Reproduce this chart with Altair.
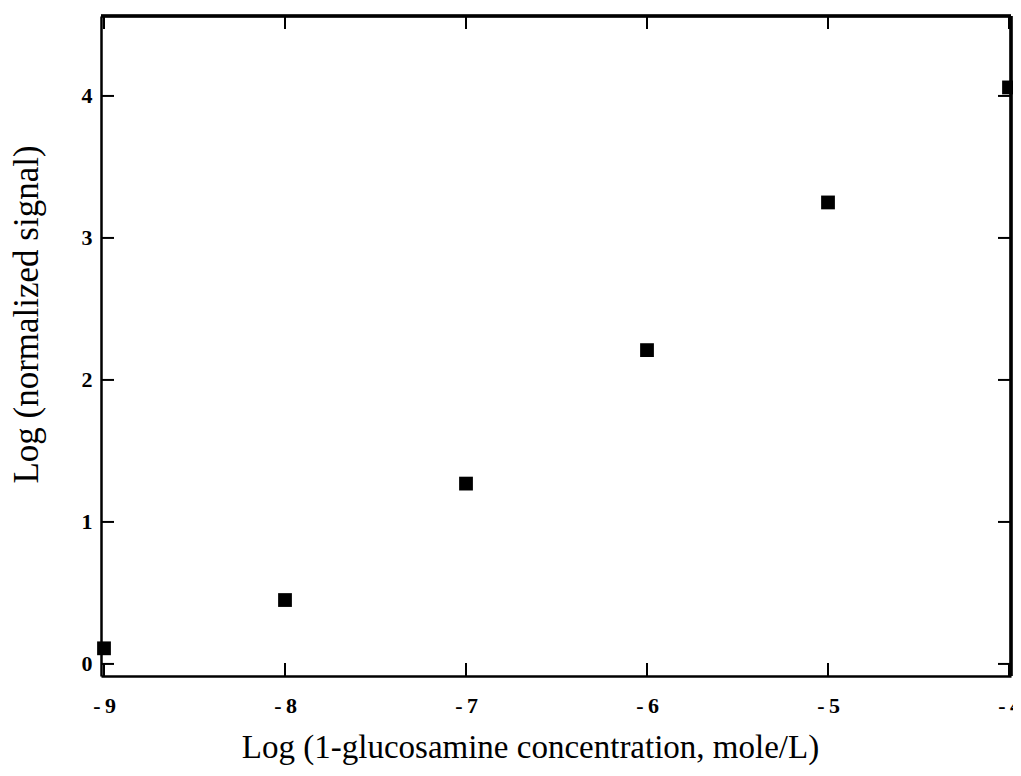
import altair as alt
import pandas as pd

# data
log_conc = [-9, -8, -7, -6, -5, -4]
log_signal = [0.11, 0.45, 1.27, 2.21, 3.25, 4.06]
x_ticks = [-9, -8, -7, -6, -5, -4]
y_ticks = [0, 1, 2, 3, 4]

df = pd.DataFrame({"x": log_conc, "y": log_signal})
xt = pd.DataFrame({"v": x_ticks})
yt = pd.DataFrame({"v": y_ticks})

W, H = 910, 660
xs = alt.Scale(domain=[-9.0166, -3.989], nice=False, zero=False)
ys = alt.Scale(domain=[-0.085, 4.563], nice=False, zero=False)

FONT = "Liberation Serif"

xaxis = alt.Axis(
    values=x_ticks, tickSize=0, labelPadding=19, labelFontSize=22, labelFontWeight="bold",
    labelFont=FONT, labelColor="black", labelExpr="'-\u2009' + abs(datum.value)",
    domainColor="black", domainWidth=2.5, grid=False,
    title="Log (1-glucosamine concentration, mole/L)", titleFont=FONT, titleFontSize=33,
    titleFontWeight="normal", titleColor="black", titleX=429, titleY=81,
    titleBaseline="alphabetic", labelFlush=False,
)
yaxis = alt.Axis(
    values=y_ticks, tickSize=0, labelPadding=9, labelFontSize=22, labelFontWeight="bold",
    labelFont=FONT, labelColor="black", labelExpr="format(datum.value, 'd')",
    domainColor="black", domainWidth=2.5, grid=False,
    title="Log (normalized signal)", titleFont=FONT, titleFontSize=35,
    titleFontWeight="normal", titleColor="black", titleX=-64, titleY=298,
    titleBaseline="alphabetic", labelFlush=False,
)

points = alt.Chart(df).mark_square(size=190, color="black", opacity=1, clip=False).encode(
    x=alt.X("x:Q", scale=xs, axis=xaxis),
    y=alt.Y("y:Q", scale=ys, axis=yaxis),
)

tick_len = 13
bottom_ticks = alt.Chart(xt).mark_rule(color="black", strokeWidth=2).encode(
    x=alt.X("v:Q", scale=xs), y=alt.value(H), y2=alt.value(H - tick_len)
)
top_ticks = alt.Chart(xt).mark_rule(color="black", strokeWidth=2).encode(
    x=alt.X("v:Q", scale=xs), y=alt.value(0), y2=alt.value(tick_len)
)
left_ticks = alt.Chart(yt).mark_rule(color="black", strokeWidth=2).encode(
    y=alt.Y("v:Q", scale=ys), x=alt.value(0), x2=alt.value(tick_len)
)
right_ticks = alt.Chart(yt).mark_rule(color="black", strokeWidth=2).encode(
    y=alt.Y("v:Q", scale=ys), x=alt.value(W), x2=alt.value(W - tick_len)
)
top_frame = alt.Chart(xt).mark_rule(color="black", strokeWidth=2.5).encode(
    x=alt.value(0), x2=alt.value(W), y=alt.value(0)
)
right_frame = alt.Chart(xt).mark_rule(color="black", strokeWidth=2.5).encode(
    x=alt.value(W), y=alt.value(0), y2=alt.value(H)
)

chart = alt.layer(
    top_frame, right_frame, bottom_ticks, top_ticks, left_ticks, right_ticks, points
).properties(
    width=W, height=H,
    autosize=alt.AutoSizeParams(type="none"),
    padding={"left": 93, "top": 8, "right": 2, "bottom": 92},
).configure_view(stroke=None).configure(background="white")

chart.save("out.html", embed_options={"renderer": "svg", "actions": False})
